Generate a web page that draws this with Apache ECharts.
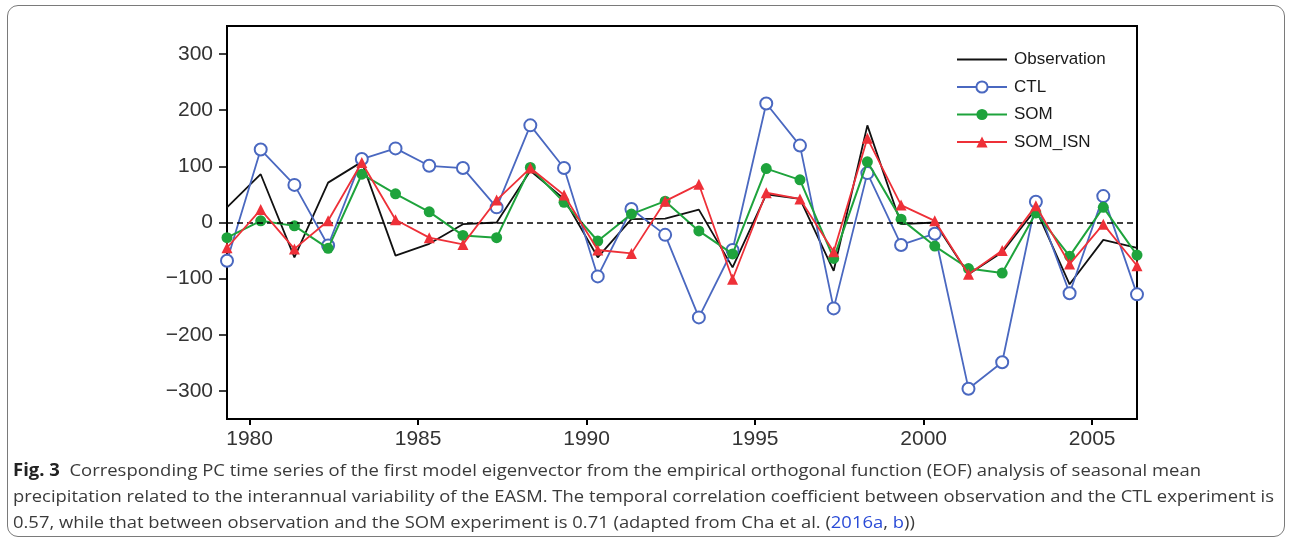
<!DOCTYPE html>
<html>
<head>
<meta charset="utf-8">
<script src="https://cdn.jsdelivr.net/npm/echarts@6/dist/echarts.min.js"></script>
<style>
html,body{margin:0;padding:0;background:#fff;}
#wrap{position:relative;width:1292px;height:545px;overflow:hidden;background:#fff;}
#frame{position:absolute;left:7px;top:5px;width:1276px;height:530px;border:1px solid #7a7a7a;border-radius:11px;pointer-events:none;}
#chart{position:absolute;left:0;top:0;width:1292px;height:545px;}
#cap{position:absolute;left:13px;top:457px;font-family:"Open Sans","Noto Sans",sans-serif;font-size:17px;color:#3a3a3a;line-height:26px;white-space:nowrap;}
#cap .ln{display:block;height:26px;}
#cap .ln span.in{display:inline-block;transform-origin:0 50%;}
#cap b{color:#222;}
#cap a{color:#2a4bd7;text-decoration:none;}
</style>
</head>
<body>
<div id="wrap">
  <div id="chart"></div>
  <div id="frame"></div>
  <div id="cap">
    <div class="ln" data-w="1188"><span class="in"><b>Fig. 3</b>&nbsp; Corresponding PC time series of the first model eigenvector from the empirical orthogonal function (EOF) analysis of seasonal mean</span></div>
    <div class="ln" data-w="1261"><span class="in">precipitation related to the interannual variability of the EASM. The temporal correlation coefficient between observation and the CTL experiment is</span></div>
    <div class="ln" data-ref="1"><span class="in">0.57, while that between observation and the SOM experiment is 0.71 (adapted from Cha et al. (<a>2016a</a>, <a>b</a>))</span></div>
  </div>
</div>
<script>
// ---- data ----
var years = [1979,1980,1981,1982,1983,1984,1985,1986,1987,1988,1989,1990,1991,1992,1993,1994,1995,1996,1997,1998,1999,2000,2001,2002,2003,2004,2005,2006];
var observation = [27,86,-62,71,108,-59,-38,-3,0,92,42,-62,6,7,23,-80,50,42,-86,173,-3,0,-92,-53,24,-110,-31,-45];
var ctl = [-68,130,67,-41,113,132,101,97,27,173,97,-96,24,-22,-169,-49,212,137,-153,88,-40,-20,-296,-249,37,-126,47,-128];
var som = [-27,3,-6,-46,86,51,19,-23,-27,98,36,-33,15,38,-15,-56,96,76,-64,108,6,-42,-82,-90,17,-60,27,-58];
var somIsn = [-45,23,-47,3,107,5,-27,-39,40,97,49,-49,-55,38,68,-101,53,42,-52,150,31,3,-92,-50,30,-74,-3,-77];
var xTicks = [1980,1985,1990,1995,2000,2005];
var yTicks = [-300,-200,-100,0,100,200,300];
var seriesNames = ['Observation','CTL','SOM','SOM_ISN'];

// points sit about a third of a year after the year tick
var yearOffset = 0.33;
function pairs(vals){ return years.map(function(y,i){ return [y + yearOffset, vals[i]]; }); }

var chart = echarts.init(document.getElementById('chart'), null, {renderer:'canvas'});
var axisFont = {fontFamily:'Liberation Sans, Arial, sans-serif', fontSize:21, color:'#333'};
var option = {
  animation:false,
  backgroundColor:'transparent',
  grid:{left:227, right:155, top:26, bottom:126, show:true, borderColor:'#000', borderWidth:2, backgroundColor:'transparent'},
  legend:{
    orient:'vertical', left:951, top:46, itemWidth:50, itemHeight:14, itemGap:10.5,
    data:[{name:seriesNames[0], itemStyle:{opacity:0}}, seriesNames[1], seriesNames[2], seriesNames[3]],
    textStyle:{fontFamily:'Liberation Sans, Arial, sans-serif', fontSize:17, color:'#1a1a1a', padding:[0,0,0,2]}
  },
  xAxis:{
    type:'value', min:years[0]+yearOffset, max:years[years.length-1]+yearOffset,
    axisLine:{show:true, onZero:false, lineStyle:{color:'#000', width:2}},
    axisTick:{show:true, length:6, customValues:xTicks, lineStyle:{color:'#000', width:2}},
    axisLabel:Object.assign({customValues:xTicks, margin:10, formatter:function(v){return String(Math.round(v));}}, axisFont),
    splitLine:{show:false}
  },
  yAxis:{
    type:'value', min:-350, max:350,
    axisLine:{show:true, onZero:false, lineStyle:{color:'#000', width:2}},
    axisTick:{show:true, length:8, customValues:yTicks, lineStyle:{color:'#000', width:1.5}},
    axisLabel:Object.assign({customValues:yTicks, margin:14, formatter:function(v){return v<0 ? '\u2212'+(-v) : String(v);}}, axisFont),
    splitLine:{show:false}
  },
  series:[
    {name:seriesNames[0], type:'line', data:pairs(observation), symbol:'none', z:2,
     lineStyle:{color:'#111', width:1.8}, itemStyle:{color:'#111'},
     markLine:{silent:true, symbol:'none', label:{show:false}, lineStyle:{color:'#000', type:[6,4], width:1.5}, data:[{yAxis:0}]}},
    {name:seriesNames[1], type:'line', data:pairs(ctl), symbol:'emptyCircle', symbolSize:12, z:3,
     lineStyle:{color:'#4a68c0', width:1.8}, itemStyle:{color:'#4a68c0', borderWidth:2}},
    {name:seriesNames[2], type:'line', data:pairs(som), symbol:'circle', symbolSize:11, z:4,
     lineStyle:{color:'#1ea33c', width:2}, itemStyle:{color:'#1ea33c'}},
    {name:seriesNames[3], type:'line', data:pairs(somIsn), symbol:'triangle', symbolSize:11, z:5,
     lineStyle:{color:'#ee3038', width:1.8}, itemStyle:{color:'#ee3038'}}
  ]
};
chart.setOption(option);

// fit caption lines to their measured widths in the reference
(function(){
  var lines = document.querySelectorAll('#cap .ln');
  var lastScale = 1;
  lines.forEach(function(ln){
    var inner = ln.querySelector('.in');
    var w = inner.getBoundingClientRect().width;
    var target = ln.getAttribute('data-w');
    var s = target ? (parseFloat(target)/w) : lastScale;
    lastScale = s;
    inner.style.transform = 'scaleX(' + s + ')';
  });
})();
</script>
</body>
</html>
